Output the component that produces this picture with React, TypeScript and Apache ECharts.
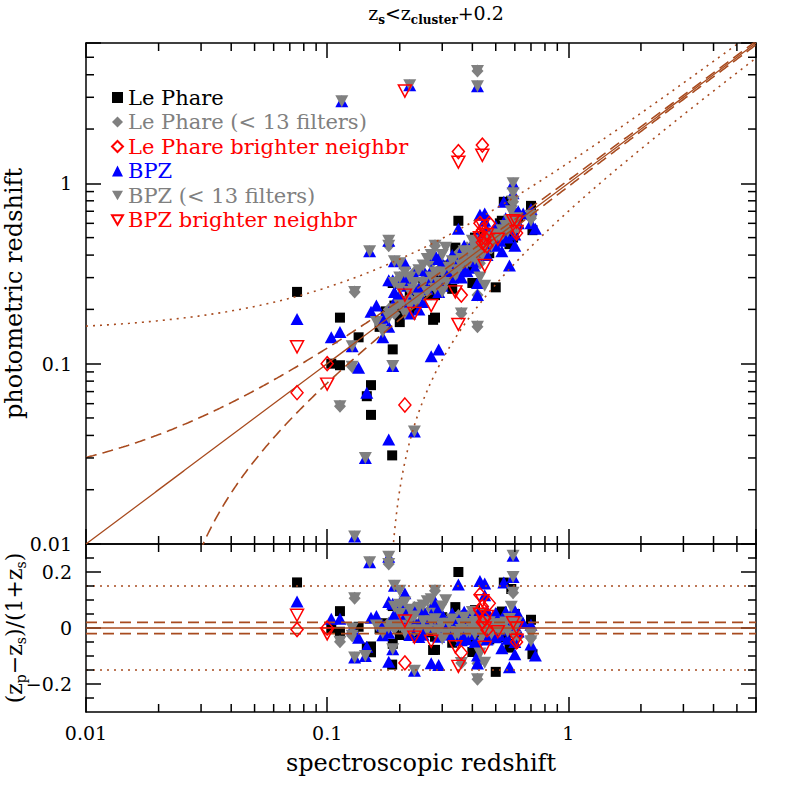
import React, { useEffect, useRef } from 'react';
import * as echarts from 'echarts';

const FONT = 'DejaVu Serif';

// [spectroscopic z, photometric z]
const lePhare: [number, number][] = [
  [0.075, 0.25], [0.104, 0.1], [0.113, 0.098], [0.113, 0.18], [0.135, 0.14], [0.146, 0.066], [0.152, 0.076],
  [0.152, 0.052], [0.186, 0.031], [0.187, 0.28], [0.187, 0.12], [0.175, 0.195], [0.165, 0.16], [0.195, 0.205],
  [0.2, 0.17], [0.21, 0.22], [0.22, 0.24], [0.23, 0.21], [0.25, 0.27], [0.26, 0.24], [0.275, 0.175], [0.28, 0.18],
  [0.29, 0.31], [0.3, 0.35], [0.31, 0.29], [0.32, 0.33], [0.33, 0.26], [0.35, 0.62], [0.35, 0.37], [0.36, 0.34],
  [0.38, 0.4], [0.39, 0.34], [0.4, 0.43], [0.41, 0.5], [0.42, 0.45], [0.43, 0.4], [0.44, 0.48], [0.45, 0.52],
  [0.47, 0.41], [0.5, 0.265], [0.5, 0.5], [0.52, 0.6], [0.53, 0.62], [0.54, 0.79], [0.55, 0.56], [0.57, 0.46],
  [0.58, 0.8], [0.6, 0.58], [0.62, 0.65], [0.7, 0.75], [0.71, 0.55], [0.59, 0.5],
  [0.19, 0.21], [0.2, 0.19], [0.22, 0.2], [0.24, 0.25], [0.27, 0.29], [0.28, 0.24], [0.3, 0.3], [0.33, 0.35],
  [0.34, 0.3], [0.37, 0.39], [0.4, 0.36], [0.42, 0.39], [0.43, 0.47], [0.46, 0.49], [0.48, 0.53], [0.55, 0.5],
  [0.58, 0.63], [0.6, 0.68], [0.34, 0.44], [0.4, 0.28],
];
const lePhareFew: [number, number][] = [
  [0.42, 4.2], [0.13, 0.25], [0.113, 0.058], [0.42, 0.16], [0.28, 0.45], [0.36, 0.19], [0.127, 0.096], [0.18, 0.45],
  [0.42, 0.24], [0.17, 0.16], [0.19, 0.19], [0.2, 0.23], [0.21, 0.22], [0.23, 0.22], [0.24, 0.26], [0.25, 0.25],
  [0.27, 0.27], [0.29, 0.33], [0.3, 0.28], [0.32, 0.31], [0.34, 0.36], [0.35, 0.3], [0.37, 0.37], [0.38, 0.44],
  [0.4, 0.39], [0.42, 0.41], [0.43, 0.36], [0.44, 0.46], [0.46, 0.42], [0.47, 0.47], [0.5, 0.55], [0.51, 0.49],
  [0.54, 0.56], [0.58, 0.59], [0.59, 0.79], [0.6, 0.66], [0.62, 0.57], [0.7, 0.69], [0.7, 0.64],
  [0.18, 0.2], [0.22, 0.23], [0.26, 0.29], [0.28, 0.28], [0.31, 0.34], [0.33, 0.32], [0.36, 0.4], [0.39, 0.38],
  [0.41, 0.45], [0.45, 0.49], [0.48, 0.44], [0.53, 0.52], [0.56, 0.6], [0.6, 0.62], [0.35, 0.41],
  [0.2, 0.3], [0.23, 0.32], [0.25, 0.32], [0.27, 0.36], [0.22, 0.27],
];
const lePhareBright: [number, number][] = [
  [0.075, 0.069], [0.1, 0.1], [0.21, 0.059], [0.35, 1.5], [0.44, 1.63], [0.36, 0.24], [0.43, 0.6], [0.44, 0.55],
  [0.45, 0.5], [0.46, 0.45], [0.47, 0.6], [0.61, 0.53], [0.43, 0.52], [0.44, 0.47],
];
const bpz: [number, number][] = [
  [0.075, 0.177], [0.104, 0.14], [0.113, 0.15], [0.135, 0.095], [0.146, 0.069], [0.152, 0.194], [0.18, 0.038],
  [0.187, 0.29], [0.21, 0.36], [0.23, 0.31], [0.27, 0.11], [0.29, 0.12], [0.28, 0.4], [0.43, 0.67], [0.57, 0.35],
  [0.6, 0.45], [0.73, 0.56], [0.35, 0.56], [0.42, 0.28], [0.42, 0.24], [0.18, 0.29], [0.38, 0.325], [0.53, 0.42],
  [0.54, 0.79], [0.16, 0.21], [0.17, 0.18], [0.19, 0.22], [0.2, 0.24], [0.22, 0.19], [0.24, 0.26], [0.25, 0.22],
  [0.26, 0.3], [0.3, 0.27], [0.31, 0.33], [0.32, 0.36], [0.33, 0.3], [0.34, 0.38], [0.36, 0.42], [0.37, 0.33],
  [0.39, 0.44], [0.4, 0.37], [0.41, 0.47], [0.44, 0.43], [0.45, 0.46], [0.46, 0.55], [0.48, 0.5], [0.5, 0.45],
  [0.52, 0.55], [0.55, 0.6], [0.56, 0.5], [0.58, 0.66], [0.6, 0.7], [0.62, 0.6], [0.65, 0.68], [0.7, 0.72],
  [0.45, 0.68],
  [0.17, 0.14], [0.18, 0.16], [0.19, 0.25], [0.2, 0.28], [0.21, 0.27], [0.22, 0.22], [0.23, 0.26], [0.24, 0.2],
  [0.26, 0.26], [0.27, 0.33], [0.28, 0.29], [0.29, 0.25], [0.3, 0.36], [0.32, 0.3], [0.33, 0.4], [0.35, 0.36],
  [0.36, 0.3], [0.38, 0.42], [0.4, 0.45], [0.41, 0.34], [0.42, 0.5], [0.43, 0.42], [0.44, 0.5], [0.46, 0.4],
  [0.47, 0.53], [0.49, 0.46], [0.5, 0.58], [0.52, 0.48], [0.55, 0.64], [0.57, 0.56], [0.59, 0.6], [0.6, 0.52],
  [0.62, 0.7], [0.7, 0.6], [0.45, 0.62], [0.37, 0.45],
  [0.25, 0.33], [0.21, 0.3], [0.29, 0.38],
  [0.115, 2.85], [0.22, 3.5], [0.42, 3.45], [0.59, 1.0], [0.59, 0.88], [0.15, 0.42], [0.18, 0.48], [0.19, 0.37],
  [0.127, 0.125], [0.144, 0.03], [0.13, 0.011], [0.187, 0.097], [0.23, 0.042],
];
const bpzFew: [number, number][] = [
  [0.115, 2.85], [0.22, 3.5], [0.42, 3.45], [0.59, 1.0], [0.59, 0.88], [0.15, 0.42], [0.18, 0.48], [0.19, 0.37],
  [0.127, 0.125], [0.144, 0.03], [0.13, 0.011], [0.187, 0.097], [0.23, 0.042],
  [0.42, 4.2], [0.13, 0.25], [0.113, 0.058], [0.42, 0.16], [0.28, 0.45], [0.36, 0.19], [0.127, 0.096], [0.18, 0.45],
  [0.16, 0.17], [0.17, 0.15], [0.19, 0.2], [0.2, 0.21], [0.21, 0.19], [0.22, 0.25], [0.24, 0.23], [0.25, 0.28],
  [0.27, 0.3], [0.28, 0.26], [0.3, 0.32], [0.31, 0.28], [0.33, 0.37], [0.35, 0.33], [0.36, 0.38], [0.38, 0.36],
  [0.39, 0.41], [0.4, 0.42], [0.41, 0.38], [0.42, 0.43], [0.43, 0.46], [0.45, 0.44], [0.46, 0.48], [0.48, 0.45],
  [0.5, 0.52], [0.52, 0.5], [0.55, 0.58], [0.57, 0.62], [0.59, 0.79], [0.6, 0.55], [0.61, 0.64], [0.7, 0.66],
  [0.7, 0.62], [0.43, 0.3], [0.45, 0.27],
  [0.18, 0.18], [0.2, 0.26], [0.22, 0.21], [0.23, 0.28], [0.26, 0.25], [0.28, 0.32], [0.29, 0.28], [0.32, 0.34],
  [0.34, 0.31], [0.36, 0.35], [0.37, 0.42], [0.39, 0.37], [0.41, 0.44], [0.44, 0.4], [0.47, 0.5], [0.49, 0.48],
  [0.53, 0.55], [0.56, 0.54], [0.58, 0.7], [0.6, 0.6], [0.4, 0.48], [0.3, 0.25],
  [0.19, 0.28], [0.2, 0.3], [0.21, 0.32], [0.22, 0.3], [0.24, 0.33], [0.25, 0.35], [0.26, 0.38], [0.27, 0.4],
  [0.2, 0.36], [0.3, 0.4], [0.31, 0.44],
];
const bpzBright: [number, number][] = [
  [0.075, 0.124], [0.1, 0.077], [0.21, 3.25], [0.35, 1.31], [0.44, 1.43], [0.27, 0.21], [0.23, 0.19], [0.21, 0.24],
  [0.35, 0.165], [0.34, 0.25], [0.44, 0.58], [0.45, 0.35], [0.51, 0.49], [0.59, 0.62], [0.61, 0.54], [0.61, 0.61],
  [0.43, 0.5], [0.46, 0.52], [0.45, 0.45],
];

const X_MIN = 0.01;
const X_MAX = 6;
const Y_MIN = 0.01;
const Y_MAX = 6;
const R_MIN = -0.3;
const R_MAX = 0.3;
const logMinorTicks = [0.02, 0.03, 0.04, 0.05, 0.06, 0.07, 0.08, 0.09, 0.2, 0.3, 0.4, 0.5, 0.6, 0.7, 0.8, 0.9, 2, 3, 4, 5];
const residMajorTicks = [-0.2, 0, 0.2];
const residMinorTicks = [-0.25, -0.15, -0.1, -0.05, 0.05, 0.1, 0.15, 0.25];
const SCATTER_CUT = 0.02;
const OUTLIER_CUT = 0.15;

const LINE_COLOR = '#a84b1f';
const TRI_DOWN = 'path://M0,0L10,0L5,8.7Z';

const resid = (d: [number, number][]) => d.map(([s, p]) => [s, (p - s) / (1 + s)]);

function relation(k: number, sign: number): number[][] {
  const pts: number[][] = [];
  const floor = 0.006;
  let start = X_MIN;
  if (sign < 0) start = Math.max(X_MIN, (floor + k) / (1 - k));
  const n = 400;
  const a = Math.log10(start), b = Math.log10(X_MAX);
  for (let i = 0; i <= n; i++) {
    const x = Math.pow(10, a + ((b - a) * i) / n);
    const y = x + sign * k * (1 + x);
    if (y > 0) pts.push([x, y]);
  }
  return pts;
}

const fmtLog = (v: number) => {
  const l = Math.log10(v);
  if (Math.abs(l - Math.round(l)) > 1e-6) return '';
  return String(Number(Math.pow(10, Math.round(l)).toPrecision(1)));
};

const axisLine = { show: true, onZero: false, lineStyle: { color: '#000', width: 1.5 } };
const majorTick = { show: true, inside: true, length: 15, lineStyle: { color: '#000', width: 1.5 } };
const labelStyle = { color: '#000', fontFamily: FONT, fontSize: 19 };
const nameStyle = { fontFamily: FONT, fontSize: 24, color: '#000' };

function logXAxis(gridIndex: number, position: string, showLabel: boolean, extra: any = {}) {
  return {
    type: 'log', logBase: 10, gridIndex, position, min: X_MIN, max: X_MAX,
    axisLine, axisTick: majorTick,
    axisLabel: { show: showLabel, formatter: fmtLog, margin: 11, ...labelStyle },
    splitLine: { show: false }, ...extra,
  };
}

function minorTicks(xAxisIndex: number, yAxisIndex: number, values: number[], dir: 'x' | 'y', ref: number) {
  return {
    type: 'custom', xAxisIndex, yAxisIndex, silent: true, z: 6, clip: false,
    data: values.map((v) => (dir === 'x' ? [v, ref] : [ref, v])),
    renderItem: (params: any, api: any) => {
      const cs = params.coordSys;
      const L = 8;
      const st = { stroke: '#000', lineWidth: 1.5 };
      if (dir === 'x') {
        const p = api.coord([api.value(0), ref]);
        return {
          type: 'group', children: [
            { type: 'line', shape: { x1: p[0], y1: cs.y + cs.height, x2: p[0], y2: cs.y + cs.height - L }, style: st },
            { type: 'line', shape: { x1: p[0], y1: cs.y, x2: p[0], y2: cs.y + L }, style: st },
          ],
        };
      }
      const p = api.coord([ref, api.value(1)]);
      return {
        type: 'group', children: [
          { type: 'line', shape: { x1: cs.x, y1: p[1], x2: cs.x + L, y2: p[1] }, style: st },
          { type: 'line', shape: { x1: cs.x + cs.width, y1: p[1], x2: cs.x + cs.width - L, y2: p[1] }, style: st },
        ],
      };
    },
  };
}

const seriesDefs = [
  { name: 'Le Phare', data: lePhare, symbol: 'rect', size: 10, itemStyle: { color: '#000', opacity: 1 }, z: 2 },
  { name: 'Le Phare (< 13 filters)', data: lePhareFew, symbol: 'diamond', size: [12, 13], itemStyle: { color: '#808080', opacity: 1 }, z: 2 },
  { name: 'BPZ', data: bpz, symbol: 'triangle', size: [13, 12], itemStyle: { color: '#0000ff', opacity: 1 }, z: 2 },
  { name: 'BPZ (< 13 filters)', data: bpzFew, symbol: TRI_DOWN, size: [13, 12], itemStyle: { color: '#808080', opacity: 1 }, z: 2 },
  { name: 'Le Phare brighter neighbr', data: lePhareBright, symbol: 'diamond', size: [12, 14], itemStyle: { color: 'rgba(0,0,0,0)', borderColor: '#ff0000', borderWidth: 1.5, opacity: 1 }, z: 4 },
  { name: 'BPZ brighter neighbr', data: bpzBright, symbol: TRI_DOWN, size: [13, 12], itemStyle: { color: 'rgba(0,0,0,0)', borderColor: '#ff0000', borderWidth: 1.5, opacity: 1 }, z: 4 },
];
const legendColors: Record<string, string> = {
  'Le Phare': '#000',
  'Le Phare (< 13 filters)': '#808080',
  'Le Phare brighter neighbr': '#ff0000',
  'BPZ': '#0000ff',
  'BPZ (< 13 filters)': '#808080',
  'BPZ brighter neighbr': '#ff0000',
};
const legendOrder = ['Le Phare', 'Le Phare (< 13 filters)', 'Le Phare brighter neighbr', 'BPZ', 'BPZ (< 13 filters)', 'BPZ brighter neighbr'];

function lineSeries(xAxisIndex: number, yAxisIndex: number, data: number[][], type: string) {
  const lineStyle: any = { color: LINE_COLOR, width: type === 'solid' ? 1.3 : 1.6, opacity: 1 };
  if (type === 'dashed') lineStyle.type = [11, 6];
  if (type === 'dotted') lineStyle.type = [2, 5];
  return { type: 'line', xAxisIndex, yAxisIndex, data, symbol: 'none', showSymbol: false, silent: true, clip: true, z: 3, lineStyle };
}

function buildOption() {
  const series: any[] = [];
  series.push(minorTicks(0, 0, logMinorTicks, 'x', 1));
  series.push(minorTicks(0, 0, logMinorTicks, 'y', 1));
  series.push(minorTicks(2, 2, logMinorTicks, 'x', 0));
  series.push(minorTicks(2, 2, residMinorTicks, 'y', 1));

  for (const s of seriesDefs) {
    series.push({ type: 'scatter', name: s.name, xAxisIndex: 0, yAxisIndex: 0, data: s.data, symbol: s.symbol, symbolSize: s.size, itemStyle: s.itemStyle, z: s.z, clip: true });
  }
  series.push(lineSeries(0, 0, relation(0, 1), 'solid'));
  series.push(lineSeries(0, 0, relation(SCATTER_CUT, 1), 'dashed'));
  series.push(lineSeries(0, 0, relation(SCATTER_CUT, -1), 'dashed'));
  series.push(lineSeries(0, 0, relation(OUTLIER_CUT, 1), 'dotted'));
  series.push(lineSeries(0, 0, relation(OUTLIER_CUT, -1), 'dotted'));

  for (const s of seriesDefs) {
    series.push({ type: 'scatter', name: s.name, xAxisIndex: 2, yAxisIndex: 2, data: resid(s.data), symbol: s.symbol, symbolSize: s.size, itemStyle: s.itemStyle, z: s.z, clip: true });
  }
  const hline = (v: number) => [[X_MIN, v], [X_MAX, v]];
  series.push(lineSeries(2, 2, hline(0), 'solid'));
  series.push(lineSeries(2, 2, hline(SCATTER_CUT), 'dashed'));
  series.push(lineSeries(2, 2, hline(-SCATTER_CUT), 'dashed'));
  series.push(lineSeries(2, 2, hline(OUTLIER_CUT), 'dotted'));
  series.push(lineSeries(2, 2, hline(-OUTLIER_CUT), 'dotted'));

  const subRich = {
    m: { fontFamily: FONT, fontSize: 22, lineHeight: 28, color: '#000' },
    s: { fontFamily: FONT, fontSize: 14, lineHeight: 15, verticalAlign: 'bottom', color: '#000' },
  };

  return {
    animation: false,
    backgroundColor: '#fff',
    textStyle: { fontFamily: FONT },
    grid: [
      { left: 86, top: 43, width: 670, height: 501, outerBoundsMode: 'none', containLabel: false },
      { left: 86, top: 544, width: 670, height: 168, outerBoundsMode: 'none', containLabel: false },
    ],
    legend: {
      orient: 'vertical', left: 106, top: 82, itemWidth: 11, itemHeight: 11, itemGap: 3.5,
      selectedMode: false,
      textStyle: { fontFamily: FONT, fontSize: 21 },
      data: legendOrder.map((n) => ({ name: n, textStyle: { color: legendColors[n], fontFamily: FONT, fontSize: 21 } })),
    },
    graphic: [
      {
        type: 'text', x: 436, y: 0, silent: true,
        style: { text: '{m|z}{s|s}{m|<z}{s|cluster}{m|+0.2}', rich: { m: { ...subRich.m, fontSize: 19, lineHeight: 26 }, s: { ...subRich.s, fontSize: 12, lineHeight: 14, fontWeight: 'bold' } }, align: 'center', verticalAlign: 'top' },
      },
    ],
    xAxis: [
      logXAxis(0, 'bottom', false),
      logXAxis(0, 'top', false),
      logXAxis(1, 'bottom', true, {
        name: 'spectroscopic redshift', nameLocation: 'middle', nameGap: 39,
        nameTextStyle: nameStyle,
      }),
      logXAxis(1, 'top', false),
    ],
    yAxis: [
      {
        type: 'log', logBase: 10, gridIndex: 0, position: 'left', min: Y_MIN, max: Y_MAX,
        axisLine, axisTick: majorTick,
        axisLabel: { formatter: fmtLog, margin: 14, ...labelStyle },
        splitLine: { show: false },
        name: 'photometric redshift', nameLocation: 'middle', nameGap: 60, nameMoveOverlap: false,
        nameTextStyle: nameStyle,
      },
      {
        type: 'log', logBase: 10, gridIndex: 0, position: 'right', min: Y_MIN, max: Y_MAX,
        axisLine, axisTick: majorTick, axisLabel: { show: false }, splitLine: { show: false },
      },
      {
        type: 'value', gridIndex: 1, position: 'left', min: R_MIN, max: R_MAX,
        axisLine,
        axisTick: { ...majorTick, customValues: residMajorTicks },
        axisLabel: { customValues: residMajorTicks, margin: 14, formatter: (v: number) => (v === 0 ? '0' : (v < 0 ? '\u2212' : '') + Math.abs(v).toFixed(1)), ...labelStyle },
        splitLine: { show: false },
        name: '{m|(z}{s|p}{m|\u2212z}{s|s}{m|)/(1+z}{s|s}{m|)}', nameLocation: 'middle', nameGap: 58, nameMoveOverlap: false,
        nameTextStyle: { rich: subRich },
      },
      {
        type: 'value', gridIndex: 1, position: 'right', min: R_MIN, max: R_MAX,
        axisLine, axisTick: { ...majorTick, customValues: residMajorTicks }, axisLabel: { show: false }, splitLine: { show: false },
      },
    ],
    series,
  };
}

export default function App() {
  const ref = useRef<HTMLDivElement>(null);
  useEffect(() => {
    if (!ref.current) return;
    const chart = echarts.init(ref.current, null, { renderer: 'svg' });
    chart.setOption(buildOption() as any);
    return () => chart.dispose();
  }, []);
  return <div ref={ref} style={{ position: 'absolute', left: 0, top: 0, width: 797, height: 797 }} />;
}
